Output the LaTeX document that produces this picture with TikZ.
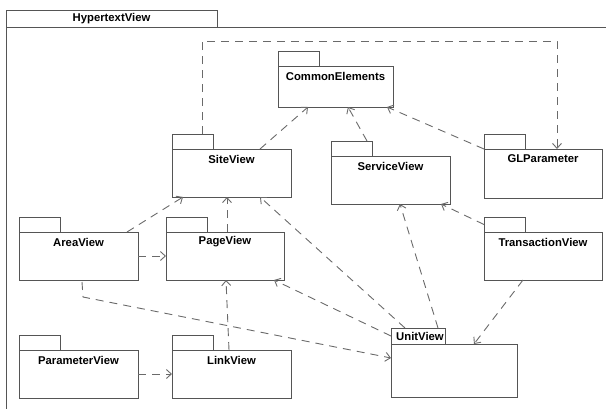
\documentclass[tikz,border=0pt]{standalone}
\usepackage{fontspec}
\setmainfont{Liberation Sans}
\usetikzlibrary{arrows.meta,calc}

\definecolor{edge}{HTML}{555555}
\definecolor{dep}{HTML}{6A6A6A}

\tikzset{
  pkbody/.style={draw=edge, line width=0.9pt, inner sep=0pt, outer sep=0pt, fill=none},
  pktab/.style={draw=edge, line width=0.9pt, inner sep=0pt, outer sep=0pt,
                minimum width=41pt, minimum height=15pt},
  pklabel/.style={inner sep=0pt, font=\bfseries\fontsize{11.3}{13}\selectfont},
  depend/.style={draw=dep, line width=0.9pt, dash pattern=on 8pt off 6pt,
                 -{Straight Barb[length=5pt,width=9pt]}},
}

% package: name, x, y (body top), width, height, label
\newcommand\umlpkg[6]{%
  \node[pkbody, minimum width=#4pt, minimum height=#5pt, anchor=north west] (#1) at (#2,#3) {};
  \node[pktab, anchor=south west] (#1-tab) at (#1.north west) {};
  \node[pklabel] (#1-lbl) at ([yshift=-10pt]#1.north) {#6};
}

\begin{document}
\begin{tikzpicture}[x=1pt, y=-1pt]
\useasboundingbox (0,0) rectangle (606,408);

% enclosing package HypertextView
\node[pktab, minimum width=211pt, minimum height=17pt, anchor=north west] (hv-tab) at (6,10) {};
\node[pklabel] (hv-lbl) at (hv-tab.center) {HypertextView};
\coordinate (hv-tl) at (6,27);
\coordinate (hv-tr) at (610,27);
\coordinate (hv-bl) at (6,412);
\draw[edge, line width=0.9pt] (hv-tr) -- (hv-tl) -- (hv-bl);

% packages
\umlpkg{ce}{278}{66}{115}{41}{CommonElements}
\umlpkg{site}{172}{149}{119}{48}{SiteView}
\umlpkg{service}{331}{156}{119}{48}{ServiceView}
\umlpkg{gl}{484}{149}{118}{49}{GLParameter}
\umlpkg{area}{19}{232}{119}{48}{AreaView}
\umlpkg{page}{166}{232}{118}{48}{PageView}
\umlpkg{trans}{484}{232}{118}{48}{TransactionView}
\umlpkg{param}{19}{350}{119}{48}{ParameterView}
\umlpkg{link}{172}{350}{119}{48}{LinkView}

% UnitView carries its name in the tab
\node[pkbody, minimum width=126pt, minimum height=53pt, anchor=north west] (unit) at (391,344) {};
\node[pktab, minimum width=54pt, minimum height=16pt, anchor=south west] (unit-tab) at (unit.north west) {};
\node[pklabel, anchor=west] (unit-lbl) at ([xshift=5pt]unit-tab.west) {UnitView};

% dependencies
\draw[depend] ($(site.north west)+(88,0)$) -- ($(ce.south west)+(30,0)$);
\draw[depend] ($(service-tab.north east)+(-5,0)$) -- ($(ce.south west)+(70,0)$);
\draw[depend] (gl.north west) -- ($(ce.south east)+(-6,0)$);

\coordinate (bend1) at ($(site-tab.north west)+(30,-93)$);
\coordinate (bend2) at ($(gl.north west)+(73,-108)$);
\draw[depend] ($(site-tab.north west)+(30,0)$) -- (bend1) -- (bend2) -- ($(gl.north west)+(73,0)$);

\draw[depend] ($(area.north east)+(-11,0)$) -- ($(site.south west)+(11,0)$);
\draw[depend] ($(page.north west)+(61,0)$) -- ($(site.south west)+(55,0)$);
\draw[depend] ($(unit-tab.north west)+(14,0)$) -- ($(site.south west)+(88,0)$);

\draw[depend] (area.east) -- (page.west);
\coordinate (bend3) at ($(area.south west)+(64,17)$);
\draw[depend] ($(area.south west)+(63,2)$) -- (bend3) -- ($(unit.north west)+(0,14)$);

\draw[depend] ($(link.north west)+(57,0)$) -- ($(page.south west)+(60,0)$);
\draw[depend] (unit-tab.west) -- ($(page.south east)+(-10,0)$);
\draw[depend] (param.east) -- (link.west);

\draw[depend] ($(unit-tab.north east)+(-7,0)$) -- ($(service.south west)+(69,0)$);
\draw[depend] (trans-tab.west) -- ($(service.south east)+(-9,0)$);
\draw[depend] ($(trans.south west)+(39,0)$) -- ($(unit.north west)+(83,0)$);

\end{tikzpicture}
\end{document}
